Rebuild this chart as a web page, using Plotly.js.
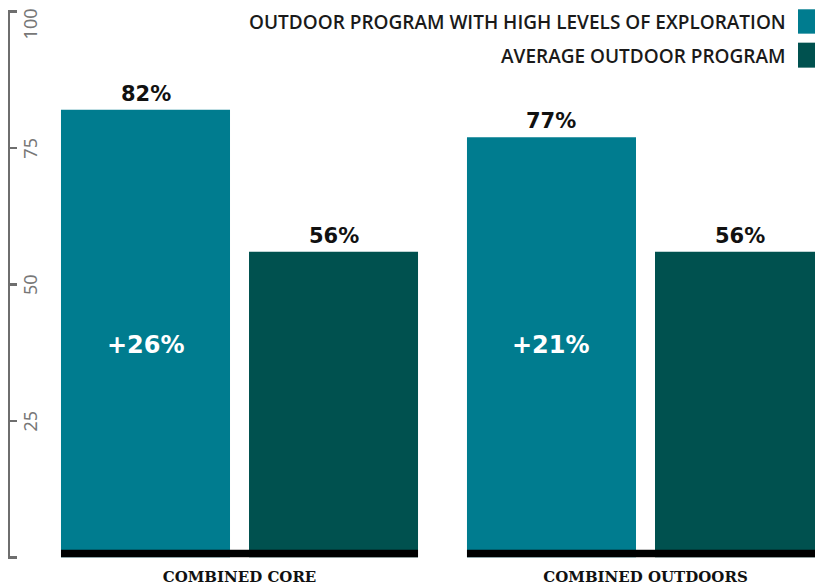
<!DOCTYPE html>
<html>
<head>
<meta charset="utf-8">
<script src="https://cdn.plot.ly/plotly-3.0.1.min.js"></script>
<style>
  html, body { margin: 0; padding: 0; background: #ffffff; }
  #chart { width: 815px; height: 587px; }
</style>
</head>
<body>
<div id="chart"></div>
<script>
// Survey results: share of students, by program type
const categories = ["COMBINED CORE", "COMBINED OUTDOORS"];
const seriesNames = ["OUTDOOR PROGRAM WITH HIGH LEVELS OF EXPLORATION", "AVERAGE OUTDOOR PROGRAM"];
const highExploration = [82, 77];
const averageProgram = [56, 56];
const seriesColors = ["#007C8F", "#00514F"];
const yTickVals = [0, 25, 50, 75, 100];
const yTickText = ["", "25", "50", "75", "100"];

// bar geometry in category units
const halfGroup = 0.4397;
const barWidth = 0.4163;
const offsets = [-halfGroup, halfGroup - barWidth];
const xIdx = categories.map((_, i) => i);

const traces = [highExploration, averageProgram].map((vals, s) => ({
  type: "bar",
  name: seriesNames[s],
  x: xIdx,
  y: vals,
  width: barWidth,
  offset: offsets[s],
  marker: { color: seriesColors[s], line: { width: 0 } },
  hoverinfo: "skip",
  showlegend: false
}));

// empty helper traces so the label axes get their own subplots
["y2", "y3"].forEach(ax => traces.push({
  type: "scatter", mode: "markers", x: [], y: [],
  xaxis: "x", yaxis: ax, showlegend: false, hoverinfo: "skip"
}));

const annotations = [];
const center = s => offsets[s] + barWidth / 2;

// value labels above every bar
[highExploration, averageProgram].forEach((vals, s) => {
  vals.forEach((v, i) => {
    annotations.push({
      x: i + center(s), y: v, xref: "x", yref: "y",
      text: v + "%", showarrow: false,
      yanchor: "middle", yshift: 16,
      font: { family: "DejaVu Sans", size: 21, color: "#111111", weight: 700 }
    });
  });
});

// gap between the two programs, written inside the first bar
highExploration.forEach((v, i) => {
  annotations.push({
    x: i + center(0), y: 39, xref: "x", yref: "y",
    text: "+" + (v - averageProgram[i]) + "%", showarrow: false,
    font: { family: "DejaVu Sans", size: 24, color: "#ffffff", weight: 700 }
  });
});

// legend: right-aligned text with a colour block on the right
const legendY = [0.9782, 0.9163];
const swatchY = [[0.9569, 1.0013], [0.8950, 0.9405]];
const shapes = [];
seriesNames.forEach((name, s) => {
  annotations.push({
    x: 0.9665, y: legendY[s], xref: "paper", yref: "paper",
    xanchor: "right", yanchor: "middle", text: name, showarrow: false,
    font: { family: "Open Sans", size: 19, color: "#1a1a1a", weight: 600 }
  });
  shapes.push({
    type: "rect", xref: "paper", yref: "paper",
    x0: 0.9789, x1: 1.0, y0: swatchY[s][0], y1: swatchY[s][1],
    fillcolor: seriesColors[s], line: { width: 0 }
  });
});

// black base strip under each pair of bars
xIdx.forEach(i => {
  shapes.push({
    type: "rect", xref: "x", yref: "y", layer: "above",
    x0: i - halfGroup, x1: i + halfGroup, y0: 0, y1: 1.4,
    fillcolor: "#000000", line: { width: 0 }
  });
});

const axisGray = "#6e6e6e";
// a hair of padding keeps the end ticks (the bracket caps) from being culled
const yRange = [-0.3, 100.3];
const labelFont = { family: "Noto Sans", size: 18, color: "#777777" };
const topIdx = yTickVals.length - 1;

// shared settings for the rotated label axes right of the bracket
const labelAxis = (vals, text, shift) => ({
  overlaying: "y", side: "right", anchor: "free", position: 0.01,
  range: yRange, tickvals: vals, ticktext: text,
  showgrid: false, zeroline: false, showline: false, ticks: "",
  tickangle: -90, tickfont: labelFont,
  ticklabelshift: shift, ticklabeloverflow: "allow",
  fixedrange: true
});

const layout = {
  width: 815, height: 587,
  margin: { l: 10, r: 0, t: 10, b: 28, pad: 0 },
  paper_bgcolor: "#ffffff", plot_bgcolor: "#ffffff",
  barmode: "overlay",
  xaxis: {
    range: [-0.5653, 1.4175],
    tickvals: xIdx, ticktext: categories,
    showgrid: false, zeroline: false, showline: false, ticks: "",
    tickfont: { family: "DejaVu Serif", size: 15, color: "#111111", weight: 700 },
    ticklabelstandoff: 7,
    fixedrange: true
  },
  // bracket-style value axis: line and inward ticks
  yaxis: {
    range: yRange,
    tickvals: yTickVals,
    showgrid: false, zeroline: false,
    showline: true, linecolor: axisGray, linewidth: 2.5,
    ticks: "inside", ticklen: 7, tickwidth: 2.5, tickcolor: axisGray,
    showticklabels: false,
    fixedrange: true
  },
  // labels for the inner ticks
  yaxis2: labelAxis(yTickVals.slice(0, topIdx), yTickText.slice(0, topIdx), 3),
  // the top label sits just below its tick so it stays on the page
  yaxis3: labelAxis(yTickVals.slice(topIdx), yTickText.slice(topIdx), 15),
  annotations: annotations,
  shapes: shapes
};

Plotly.newPlot("chart", traces, layout, { displayModeBar: false, staticPlot: true });
</script>
</body>
</html>
